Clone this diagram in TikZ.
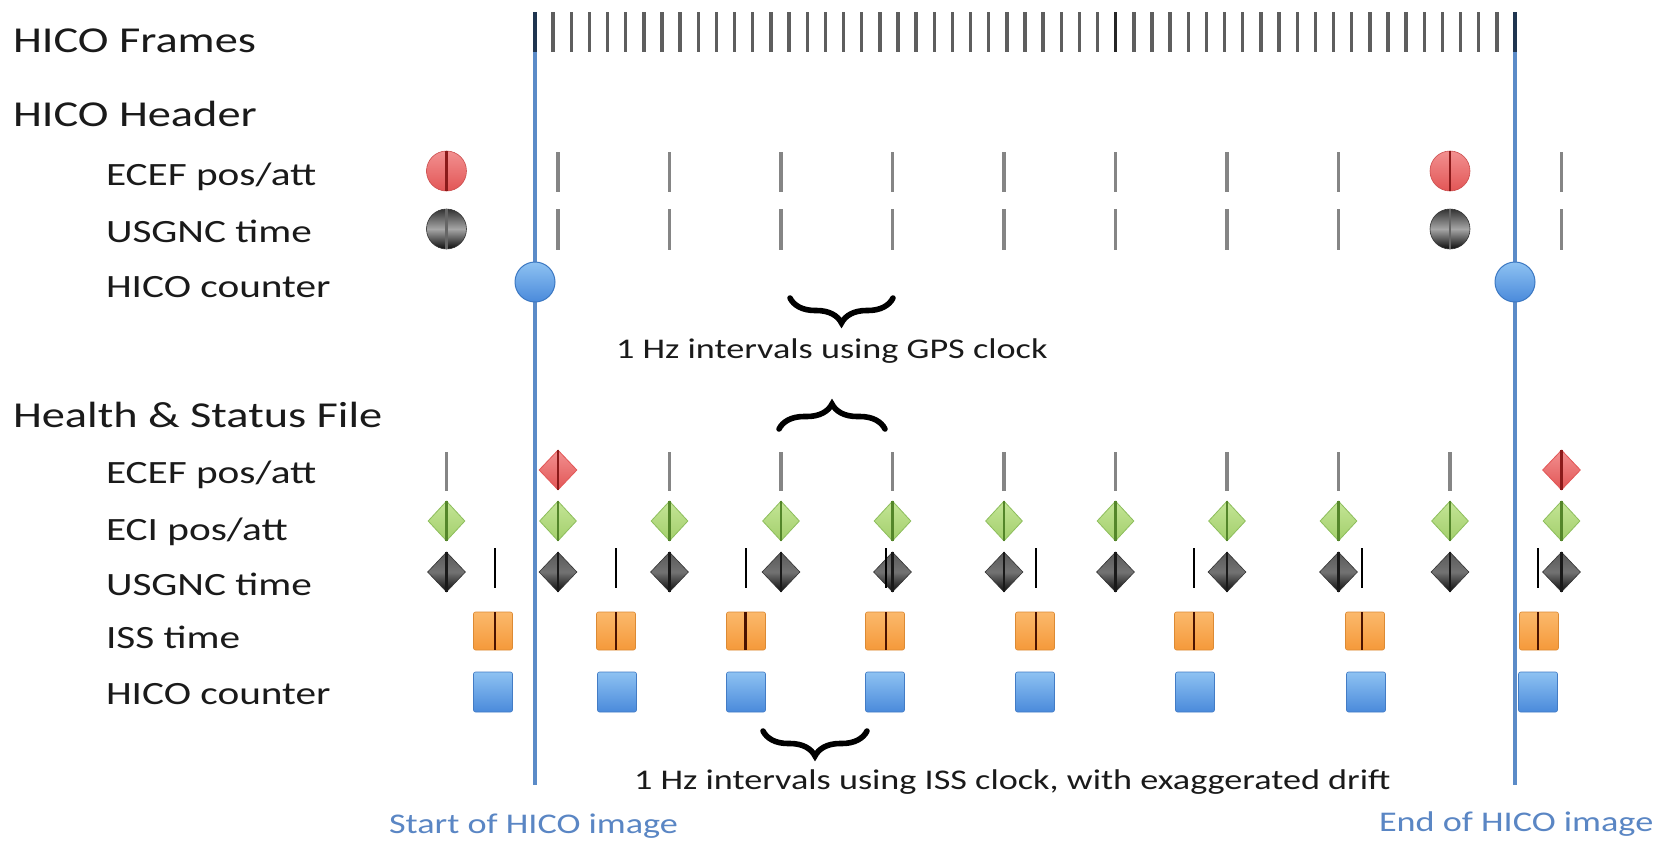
\documentclass[tikz,border=0pt]{standalone}
\usepackage{fontspec}
\setmainfont{Carlito}[FakeStretch=1.27]
\usetikzlibrary{shapes.geometric,decorations.pathreplacing}
\definecolor{txt}{HTML}{1A1A1A}
\definecolor{hblue}{HTML}{5B8BC8}
\definecolor{tblue}{HTML}{5A86C4}
\definecolor{gtick}{HTML}{858585}
\definecolor{ftickc}{HTML}{5E5E5E}
\definecolor{navy}{HTML}{1F3550}
\definecolor{redtop}{HTML}{F29090}
\definecolor{redbot}{HTML}{E25656}
\definecolor{redline}{HTML}{8B1A1A}
\definecolor{bluetop}{HTML}{8EC2F2}
\definecolor{bluebot}{HTML}{4A8ADB}
\definecolor{blueedge}{HTML}{3C78C2}
\definecolor{grtop}{HTML}{C4E596}
\definecolor{grbot}{HTML}{A3CF6C}
\definecolor{gredge}{HTML}{8DBE5C}
\definecolor{grline}{HTML}{54862A}
\definecolor{ortop}{HTML}{FBB96C}
\definecolor{orbot}{HTML}{F5993A}
\definecolor{orline}{HTML}{4A1200}
\begin{document}
\begin{tikzpicture}[x=0.5pt,y=-0.5pt,
  lbl/.style={anchor=base west,inner sep=0pt,outer sep=0pt,text=txt},
  head/.style={lbl,font=\fontsize{18.25}{21}\selectfont},
  sub/.style={lbl,font=\fontsize{16.25}{19}\selectfont},
  capt/.style={lbl,font=\fontsize{14.25}{17}\selectfont},
  bcapt/.style={capt,text=tblue},
  bline/.style={draw=hblue,line width=2.25pt},
  ftick/.style={draw=ftickc,line width=1.7pt},
  gmark/.style={draw=gtick,line width=1.6pt},
  kmark/.style={draw=black,line width=1pt},
  redball/.style={circle,inner sep=0pt,minimum size=20pt,top color=redtop,bottom color=redbot,draw=redbot!90!black,line width=0.3pt},
  blackball/.style={circle,inner sep=0pt,minimum size=20pt,top color=black!80,bottom color=black!95,middle color=black!35,draw=black!80,line width=0.3pt},
  blueball/.style={circle,inner sep=0pt,minimum width=20pt,minimum height=19.5pt,top color=bluetop,bottom color=bluebot,draw=blueedge,line width=0.5pt},
  reddia/.style={diamond,inner sep=0pt,minimum width=19pt,minimum height=20pt,top color=redtop,bottom color=redbot,draw=redbot,line width=0.4pt},
  grdia/.style={diamond,inner sep=0pt,minimum width=18.5pt,minimum height=20pt,top color=grtop,bottom color=grbot,draw=gredge,line width=0.4pt},
  kdia/.style={diamond,inner sep=0pt,minimum width=19pt,minimum height=20pt,top color=black!65,bottom color=black!95,middle color=black!55,draw=black!80,line width=0.3pt},
  orbox/.style={rectangle,rounded corners=1pt,inner sep=0pt,minimum width=19.5pt,minimum height=19pt,top color=ortop,bottom color=orbot,draw=orbot!90!black,line width=0.3pt},
  bbox/.style={rectangle,rounded corners=1pt,inner sep=0pt,minimum width=19.5pt,minimum height=20pt,top color=bluetop,bottom color=bluebot,draw=bluebot!90!black,line width=0.3pt},
  cline/.style={line width=1.2pt},
  brc/.style={draw=black,line width=2.8pt,line cap=round,decorate,decoration={brace,amplitude=12.5pt,aspect=0.5}}
]
\useasboundingbox (0,0) rectangle (1672,841);
\fill[white] (0,0) rectangle (1672,841);

% ---------- labels ----------
\node[head] (lFrames) at (13,52) {HICO Frames};
\node[head] (lHeader) at (13,126) {HICO Header};
\node[sub] (lhEcef) at (106,185) {ECEF pos/att};
\node[sub] (lhUsg) at (106,242) {USGNC time};
\node[sub] (lhCnt) at (106,297) {HICO counter};
\node[head] (lHealth) at (13,427) {Health \& Status File};
\node[sub] (lsEcef) at (106,483) {ECEF pos/att};
\node[sub] (lsEci) at (106,540) {ECI pos/att};
\node[sub] (lsUsg) at (106,595) {USGNC time};
\node[sub] (lsIss) at (106,648) {ISS time};
\node[sub] (lsCnt) at (106,704) {HICO counter};
\node[capt] (cGps) at (616,358) {1 Hz intervals using GPS clock};
\node[capt] (cIss) at (634,789) {1 Hz intervals using ISS clock, with exaggerated drift};
\node[bcapt] (cStart) at (389,833) {Start of HICO image};
\node[bcapt] (cEnd) at (1379,831) {End of HICO image};

% ---------- image start / end lines ----------
\coordinate (sTop) at (535,12);
\coordinate (sBot) at (535,785);
\coordinate (eTop) at (1515,12);
\coordinate (eBot) at (1515,785);
\draw[bline] (sTop) -- (sBot);
\draw[bline] (eTop) -- (eBot);

% ---------- HICO frames ----------
\foreach \i in {0,...,54}{
  \pgfmathsetmacro\xx{535+\i*18.1481}
  \draw[ftick] (\xx,12) -- (\xx,52);
}
\draw[ftick,draw=navy] (535,12) -- (535,52);
\draw[ftick,draw=navy] (1515,12) -- (1515,52);
\draw[ftick,draw=black!85] (1115.74,12) -- (1115.74,52);

% ---------- HICO header ----------
\foreach \k in {1,2,3,4,5,6,7,8,10}{
  \pgfmathsetmacro\xx{446.5+111.5*\k}
  \draw[gmark] (\xx,152) -- (\xx,192);
  \draw[gmark] (\xx,209) -- (\xx,250);
}
\foreach \k/\nm in {0/a,9/b}{
  \pgfmathsetmacro\xx{446.5+111.5*\k}
  \node[redball] (hR\nm) at (\xx,171) {};
  \draw[cline,draw=redline] (hR\nm.north) -- (hR\nm.south);
  \node[blackball] (hK\nm) at (\xx,229) {};
  \draw[cline,draw=black!60] (hK\nm.north) -- (hK\nm.south);
}
\node[blueball] (hCa) at (535,282) {};
\node[blueball] (hCb) at (1515,282) {};

% ---------- braces ----------
\coordinate (bAl) at (790,298);
\coordinate (bAr) at (893,298);
\draw[brc] (bAr) -- (bAl);
\coordinate (bBl) at (779,429);
\coordinate (bBr) at (885,429);
\draw[brc] (bBl) -- (bBr);
\coordinate (bCl) at (763,731);
\coordinate (bCr) at (867,731);
\draw[brc] (bCr) -- (bCl);

% ---------- Health & Status: ECEF ----------
\foreach \k in {0,2,3,4,5,6,7,8,9}{
  \pgfmathsetmacro\xx{446.5+111.5*\k}
  \draw[gmark] (\xx,452) -- (\xx,491);
}
\foreach \k/\nm in {1/a,10/b}{
  \pgfmathsetmacro\xx{446.5+111.5*\k}
  \node[reddia] (sR\nm) at (\xx,470) {};
  \draw[cline,draw=redline] (sR\nm.north) -- (sR\nm.south);
}
% ---------- ECI / USGNC diamonds ----------
\foreach \k in {0,...,10}{
  \pgfmathsetmacro\xx{446.5+111.5*\k}
  \node[grdia] (sG\k) at (\xx,521) {};
  \draw[cline,line width=1.4pt,draw=grline] (sG\k.north) -- (sG\k.south);
  \node[kdia] (sK\k) at (\xx,572) {};
  \draw[cline,draw=black!90] (sK\k.north) -- (sK\k.south);
}
% ---------- ISS time / HICO counter ----------
\foreach \n/\bx/\lx/\cx in {1/493/495/493, 2/616/616/617, 3/746/745.5/746, 4/885/886/885, 5/1035/1036/1035, 6/1194/1194/1195, 7/1365/1362/1366, 8/1539/1538/1538}{
  \draw[kmark] (\lx,548) -- (\lx,588);
  \node[orbox] (sO\n) at (\bx,631) {};
  \draw[cline,draw=orline] (\lx,612) -- (\lx,650);
  \node[bbox] (sB\n) at (\cx,692) {};
}
\end{tikzpicture}
\end{document}
